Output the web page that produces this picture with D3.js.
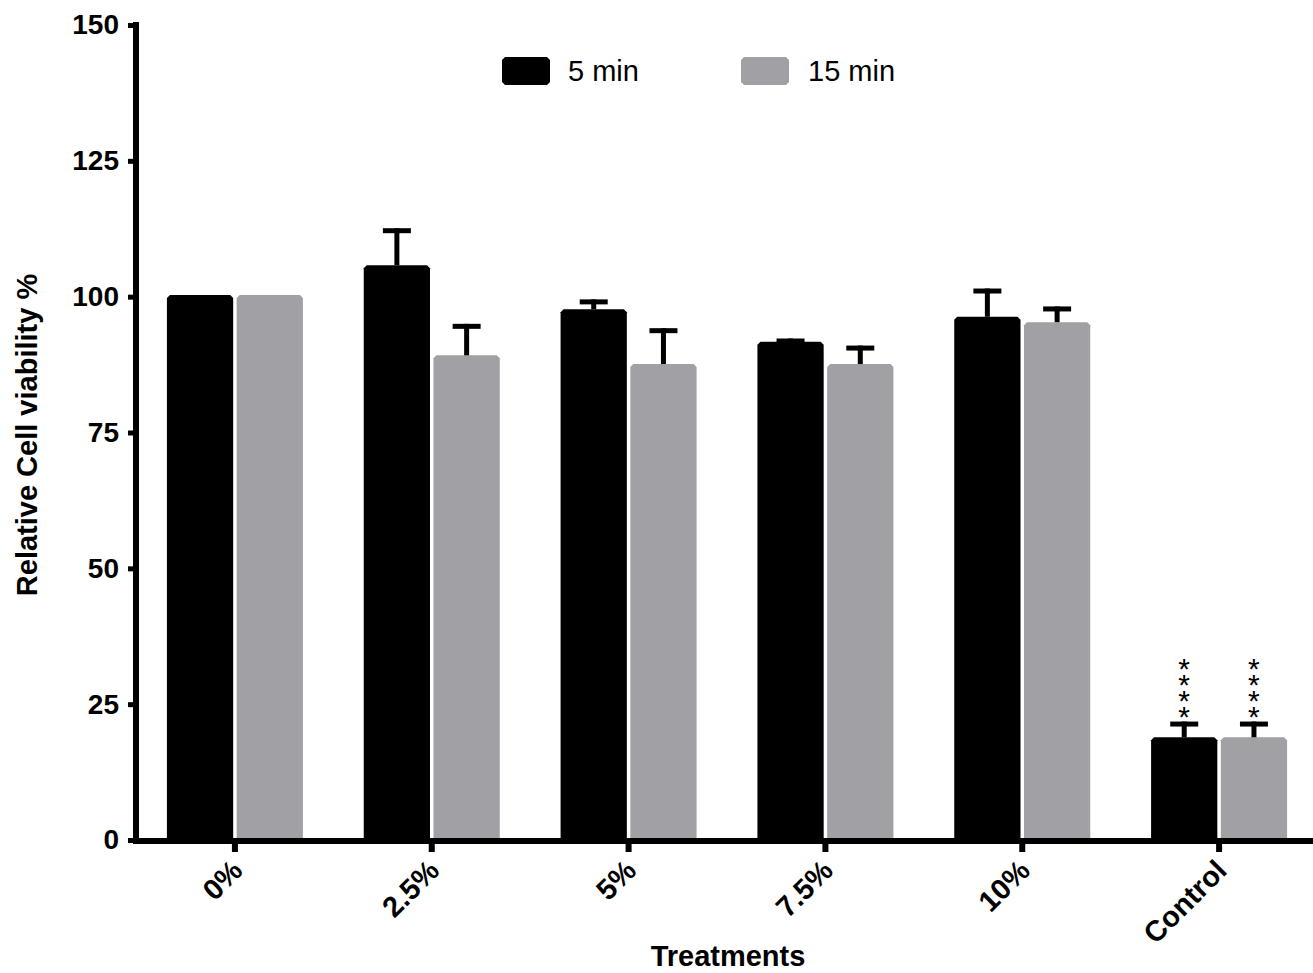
<!DOCTYPE html>
<html>
<head>
<meta charset="utf-8">
<script src="https://cdn.jsdelivr.net/npm/d3@7"></script>
<style>
  body { margin: 0; background: #fff; }
  text { font-family: "Liberation Sans", Arial, sans-serif; }
</style>
</head>
<body>
<div class="chart"></div>
<script>
var categories = ['0%', '2.5%', '5%', '7.5%', '10%', 'Control'];
var series = ['5 min', '15 min'];
var colors = ['#000000', '#a1a0a5'];
var means5 = [100.3, 105.8, 97.7, 91.7, 96.3, 18.9];
var errs5 = [0, 6.8, 1.8, 0.6, 5.2, 2.9];
var means15 = [100.3, 89.2, 87.6, 87.6, 95.3, 18.9];
var errs15 = [0, 5.8, 6.6, 3.4, 2.9, 2.9];
var stars = ['', '', '', '', '', '****'];
var yTicks = [0, 25, 50, 75, 100, 125, 150];

var width = 1313, height = 973;
var svg = d3.select('.chart')
  .append('svg')
  .attr('width', width)
  .attr('height', height);

var xScale = d3.scaleBand()
  .domain(categories)
  .range([136.5, 1317.5])
  .padding(0);

var xSub = d3.scaleBand()
  .domain(series)
  .range([-68, 68])
  .paddingInner(0.05);

var yScale = d3.scaleLinear()
  .domain([0, 150])
  .range([840, 25]);

var data = series.map((s, i) => ({
  name: s,
  color: colors[i],
  values: categories.map((c, j) => ({
    cat: c,
    idx: j,
    mean: i === 0 ? means5[j] : means15[j],
    err: i === 0 ? errs5[j] : errs15[j]
  }))
}));

// bars with clipped top corners
function barPath(x, w, y0, y1) {
  var c = 3;
  return `M${x},${y0}V${y1 + c}L${x + c},${y1}H${x + w - c}L${x + w},${y1 + c}V${y0}Z`;
}

var barCenter = d => xScale(d.cat) + xScale.bandwidth() / 2 + xSub(d.name) + xSub.bandwidth() / 2;

var groups = svg.selectAll('.series')
  .data(data)
  .enter()
  .append('g')
  .attr('class', 'series');

var items = d => d.values.map(v => ({ ...v, name: d.name, color: d.color }));

groups.selectAll('.bar')
  .data(items)
  .enter()
  .append('path')
  .attr('class', 'bar')
  .attr('fill', d => d.color)
  .attr('d', d => {
    var x = xScale(d.cat) + xScale.bandwidth() / 2 + xSub(d.name);
    return barPath(x, xSub.bandwidth(), yScale(0) - 2, yScale(d.mean));
  });

// error bars
var errs = groups.selectAll('.err')
  .data(d => items(d).filter(v => v.err > 0))
  .enter()
  .append('g')
  .attr('class', 'err');

errs.append('line')
  .attr('x1', barCenter).attr('x2', barCenter)
  .attr('y1', d => yScale(d.mean)).attr('y2', d => yScale(d.mean + d.err))
  .attr('stroke', '#000').attr('stroke-width', 5);

errs.append('line')
  .attr('x1', d => barCenter(d) - 14).attr('x2', d => barCenter(d) + 14)
  .attr('y1', d => yScale(d.mean + d.err) + 2.5).attr('y2', d => yScale(d.mean + d.err) + 2.5)
  .attr('stroke', '#000').attr('stroke-width', 5);

// significance stars, stacked vertically in one text
groups.selectAll('.stars')
  .data(d => items(d).filter(v => stars[v.idx]))
  .enter()
  .append('text')
  .attr('class', 'stars')
  .attr('x', barCenter)
  .attr('y', d => yScale(d.mean + d.err) - 70)
  .attr('font-size', 30)
  .style('writing-mode', 'vertical-rl')
  .style('text-orientation', 'upright')
  .style('letter-spacing', '-17px')
  .text(d => stars[d.idx]);

// y axis
var yAxis = g => g
  .attr('transform', 'translate(136,0)')
  .call(d3.axisLeft(yScale).tickValues(yTicks).tickSize(8).tickPadding(9))
  .call(g => g.select('.domain').attr('d', `M0,${yScale(150) - 3}V${yScale(0) + 4}`).attr('stroke-width', 6))
  .call(g => g.selectAll('.tick line').attr('stroke-width', 5))
  .call(g => g.selectAll('.tick text')
    .attr('font-size', 28).attr('font-weight', 'bold').attr('fill', '#000')
    .attr('font-family', '"Liberation Sans", Arial, sans-serif'));

svg.append('g').call(yAxis);

// x axis
var xAxis = g => g
  .attr('transform', `translate(0,${yScale(0) + 1})`)
  .call(d3.axisBottom(xScale).tickSize(11).tickFormat(''))
  .call(g => g.select('.domain').attr('d', `M133,0H${width}`).attr('stroke-width', 6))
  .call(g => g.selectAll('.tick line').attr('stroke-width', 6));

svg.append('g').call(xAxis);

svg.append('g')
  .selectAll('text')
  .data(categories)
  .enter()
  .append('text')
  .attr('transform', d => `translate(${xScale(d) + xScale.bandwidth() / 2 - 5},${yScale(0) + 18}) rotate(-45)`)
  .attr('text-anchor', 'end')
  .attr('dy', '0.7em')
  .attr('font-size', 29)
  .attr('font-weight', 'bold')
  .text(d => d);

// axis titles
svg.append('text')
  .attr('transform', 'translate(37,435) rotate(-90)')
  .attr('text-anchor', 'middle')
  .attr('font-size', 29)
  .attr('font-weight', 'bold')
  .text('Relative Cell viability %');

svg.append('text')
  .attr('x', 728)
  .attr('y', 966)
  .attr('text-anchor', 'middle')
  .attr('font-size', 29)
  .attr('font-weight', 'bold')
  .text('Treatments');

// legend
var legendX = [502, 741];
var legend = svg.selectAll('.legend')
  .data(data)
  .enter()
  .append('g')
  .attr('class', 'legend')
  .attr('transform', (d, i) => `translate(${legendX[i]},57)`);

legend.append('path')
  .attr('fill', d => d.color)
  .attr('d', 'M3,0H45L48,3V25L45,28H3L0,25V3Z');

legend.append('text')
  .attr('x', (d, i) => i === 0 ? 66 : 67)
  .attr('y', 24)
  .attr('font-size', 29)
  .text(d => d.name);
</script>
</body>
</html>
